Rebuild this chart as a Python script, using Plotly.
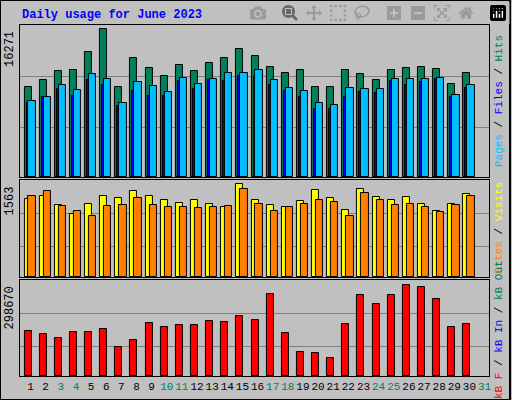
import plotly.graph_objects as go
from plotly.subplots import make_subplots

# Données (juin 2023, jours 1 à 30)
jours = list(range(1, 31))
hits = [9932, 10702, 11691, 11801, 13780, 16271, 9932, 13121, 12021, 11142,
        12351, 11691, 12571, 13121, 14110, 13341, 12131, 11471, 11801, 9932,
        9932, 11801, 11362, 10702, 11801, 12021, 12131, 11911, 10262, 11471]
files = [8393, 8833, 10152, 9602, 11362, 10812, 8173, 10482, 10042, 9382,
         10922, 10262, 10812, 11471, 11471, 11801, 10702, 9822, 9492, 8173,
         7953, 9822, 9712, 9712, 10812, 10812, 10812, 10922, 9053, 10152]
pages = [8173, 8833, 9712, 8943, 10702, 10152, 7843, 9492, 8943, 8943,
         10592, 9712, 10702, 10592, 11142, 11032, 10152, 9492, 8833, 7513,
         7513, 8833, 9382, 9272, 10592, 10152, 10482, 10812, 8833, 9822]
visits = [1309, 1360, 1208, 1055, 1225, 1360, 1326, 1445, 1360, 1292,
          1241, 1292, 1225, 1174, 1563, 1292, 1208, 1174, 1275, 1462,
          1326, 1123, 1478, 1343, 1292, 1343, 1225, 1106, 1225, 1394]
sites = [1360, 1445, 1191, 1106, 1021, 1191, 1208, 1326, 1208, 1174,
         1174, 1157, 1174, 1191, 1478, 1225, 1106, 1174, 1225, 1292,
         1258, 1021, 1411, 1292, 1208, 1225, 1174, 1089, 1208, 1360]
kbytes = [148240, 138430, 125350, 144970, 144970, 154780, 95920, 118810, 174400, 161320,
          167860, 167860, 180940, 177670, 197290, 184210, 269230, 141700, 79570, 76300,
          59950, 171130, 265960, 236530, 265960, 298670, 292120, 252880, 161320, 171130]
weekend = [3, 4, 10, 11, 17, 18, 24, 25, 31]
max_hits, max_visits, max_kb = 16271, 1563, 298670

font = "Liberation Mono, DejaVu Sans Mono, monospace"

fig = make_subplots(rows=3, cols=1, shared_xaxes=True, vertical_spacing=0.01)

def barres(y, couleur, offset, width, row):
    fig.add_trace(go.Bar(x=jours, y=y, marker=dict(color=couleur, line=dict(color="black", width=1)),
                         offset=offset, width=width, showlegend=False), row=row, col=1)

barres(hits, "#00805C", -0.40, 0.46, 1)
barres(pages, "#0000FF", -0.27, 0.46, 1)
barres(files, "#00BFFF", -0.14, 0.48, 1)
barres(visits, "#FFFF00", -0.40, 0.46, 2)
barres(sites, "#FF8000", -0.14, 0.48, 2)
barres(kbytes, "#FF0000", -0.40, 0.46, 3)

# ticks des jours, week-ends en vert
ticktext = [f"<span style='color:#00805C'>{d}</span>" if d in weekend else str(d) for d in range(1, 32)]

x0, x1 = 20 / 512, 491 / 512
for i in range(1, 4):
    fig.update_xaxes(range=[0.3, 31.3], domain=[x0, x1], showgrid=False, zeroline=False,
                     showline=True, linecolor="black", mirror=True, ticks="", row=i, col=1)
fig.update_xaxes(tickvals=list(range(1, 32)), ticktext=ticktext, showticklabels=True, tickangle=0,
                 tickfont=dict(family=font, size=11, color="black"), row=3, col=1)

fig.update_yaxes(domain=[1 - 177 / 400, 1 - 25 / 400], range=[0, max_hits * 152 / 148],
                 tickvals=[5497, 11104], row=1, col=1)
fig.update_yaxes(domain=[1 - 277 / 400, 1 - 180 / 400], range=[0, max_visits * 97 / 92.7],
                 tickvals=[518, 1074], row=2, col=1)
fig.update_yaxes(domain=[1 - 376 / 400, 1 - 280 / 400], range=[0, max_kb * 96 / 91.3],
                 tickvals=[96170, 204130], row=3, col=1)
fig.update_yaxes(showticklabels=False, gridcolor="#808080", gridwidth=1, zeroline=False,
                 showline=True, linecolor="black", mirror=True, ticks="")

fig.add_annotation(x=20 / 512, y=1 - 15 / 400, xref="paper", yref="paper", xanchor="left", yanchor="middle",
                   text="<b>Daily usage for June 2023</b>", showarrow=False,
                   font=dict(family=font, color="#0000FF", size=12))
# valeurs max à gauche
for txt, ytop in [(str(max_hits), 29), (str(max_visits), 184), (str(max_kb), 284)]:
    fig.add_annotation(x=10 / 512, y=1 - ytop / 400, xref="paper", yref="paper", xanchor="center", yanchor="top",
                       text=txt, textangle=-90, showarrow=False, font=dict(family=font, size=12, color="black"))
# légendes à droite
legendes = [
    ("<span style='color:#00BFFF'>Pages</span> / <span style='color:#0000FF'>Files</span> / "
     "<span style='color:#00805C'>Hits</span>", 101),
    ("<span style='color:#FF8000'>Sites</span> / <span style='color:#FFFF00'>Visits</span>", 228),
    ("<span style='color:#FF0000'>kB F</span> / <span style='color:#0000FF'>kB In</span> / "
     "<span style='color:#00805C'>kB Out</span>", 330),
]
for txt, yc in legendes:
    fig.add_annotation(x=501 / 512, y=1 - yc / 400, xref="paper", yref="paper", xanchor="center", yanchor="middle",
                       text=txt, textangle=-90, showarrow=False, font=dict(family=font, size=11, color="black"))

fig.add_shape(type="rect", xref="paper", yref="paper", x0=0, y0=0, x1=1, y1=1,
              line=dict(color="black", width=2))

fig.update_layout(width=512, height=400, margin=dict(l=0, r=0, t=0, b=0),
                  paper_bgcolor="#C0C0C0", plot_bgcolor="#C0C0C0", barmode="overlay", bargap=0,
                  font=dict(family=font))

# retirer la marge par défaut de la page
fig.write_html("out.html", post_script="document.body.style.margin='0';")
